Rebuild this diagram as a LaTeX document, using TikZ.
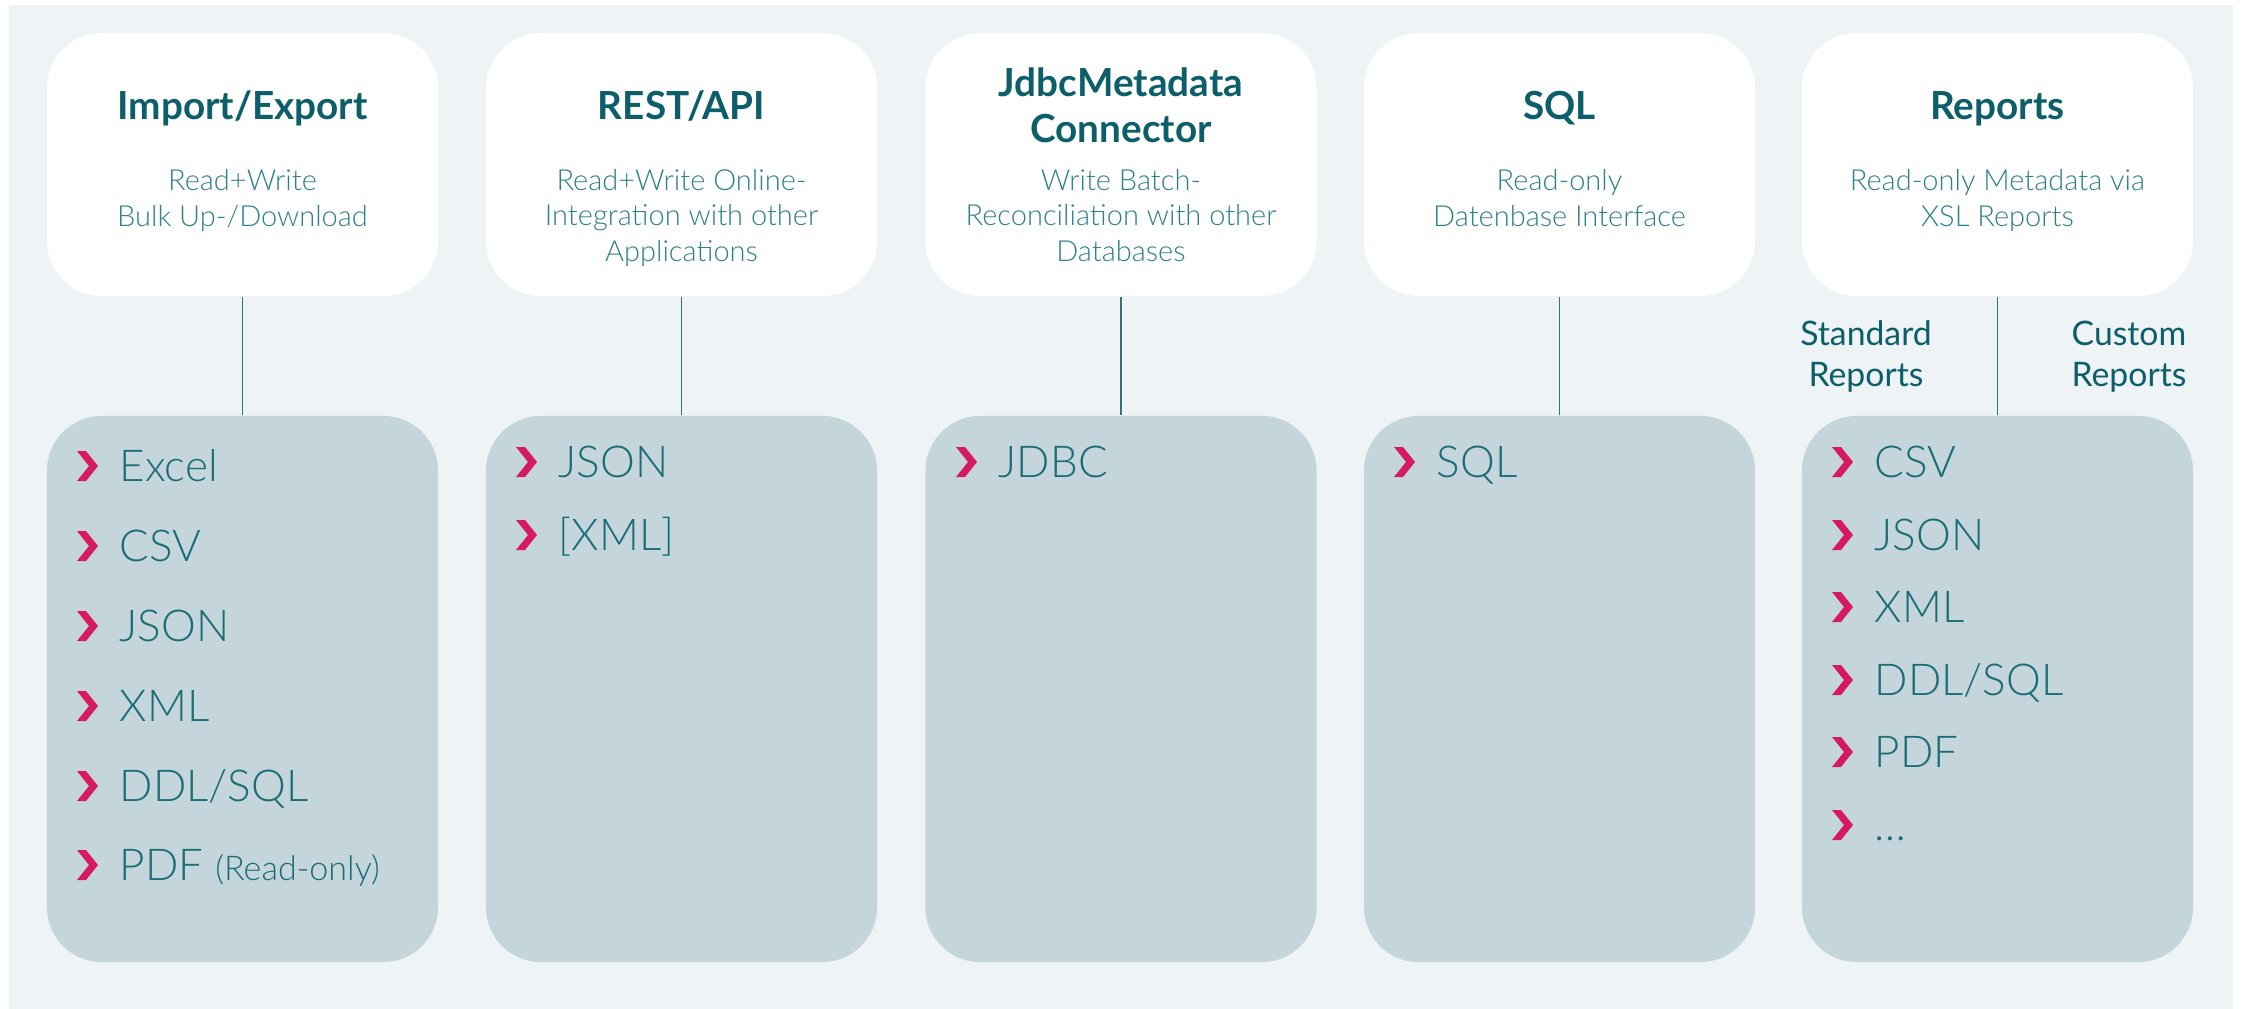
\documentclass[tikz,border=0pt]{standalone}
\usepackage{fontspec}
\setmainfont{Lato}
\newfontfamily\lightfont{Lato Light}
\definecolor{backdrop}{RGB}{238,243,246}
\definecolor{panel}{RGB}{197,213,220}
\definecolor{heading}{RGB}{12,94,106}
\definecolor{subline}{RGB}{46,128,138}
\definecolor{itemtext}{RGB}{26,108,118}
\definecolor{chevron}{RGB}{214,26,96}
\definecolor{wire}{RGB}{50,115,126}
\tikzstyle{channel}=[rectangle, rounded corners=0.55cm, fill=white, minimum width=3.91cm, minimum height=2.63cm]
\tikzstyle{formats}=[rectangle, rounded corners=0.55cm, fill=panel, minimum width=3.91cm, minimum height=5.46cm]
\tikzstyle{headline}=[font=\bfseries\fontsize{11}{12.8}\selectfont, text=heading, align=center, anchor=base, inner sep=0]
\tikzstyle{blurb}=[font=\lightfont\fontsize{8.25}{9.96}\selectfont, text=subline, align=center, anchor=base, inner sep=0]
\tikzstyle{entry}=[font=\lightfont\fontsize{12.5}{14}\selectfont, text=itemtext, anchor=base west, inner sep=0]
\tikzstyle{kind}=[font=\fontsize{9.6}{11.4}\selectfont, text=heading, align=center, anchor=base, inner sep=0]
\tikzstyle{link}=[draw=wire, line width=0.45pt]
\newcommand{\Chevron}[1]{\fill[chevron, shift={(#1.base west)}] (-42,-30) -- (-33,-30) -- (-21,-15) -- (-33,0) -- (-42,0) -- (-30,-15) -- cycle;}
\newcommand{\Small}{\fontsize{9.7}{11}\selectfont}

\begin{document}
\begin{tikzpicture}[x=0.01cm, y=-0.01cm]
  \useasboundingbox (0,0) rectangle (2244,1009);
  \fill[backdrop] (9,5) rectangle (2233,1009);

  %% Channels (multi-line texts sit on their last line)
  \draw (242.5,164.5) node[channel] (C1) {};
  \draw (681.5,164.5) node[channel] (C2) {};
  \draw (1121,164.5) node[channel] (C3) {};
  \draw (1559.5,164.5) node[channel] (C4) {};
  \draw (1997.5,164.5) node[channel] (C5) {};

  \draw (242.5,120) node[headline] (T1) {Import/Export};
  \draw (681.5,120) node[headline] (T2) {REST/API};
  \draw (1121,142) node[headline] (T3) {JdbcMetadata\\Connector};
  \draw (1559.5,120) node[headline] (T4) {SQL};
  \draw (1997.5,120) node[headline] (T5) {Reports};

  \draw (242.5,226) node[blurb] (B1) {Read+Write\\Bulk Up-/Download};
  \draw (681.5,261) node[blurb] (B2) {Read+Write Online-\\Integration with other\\Applications};
  \draw (1121,261) node[blurb] (B3) {Write Batch-\\Reconciliation with other\\Databases};
  \draw (1559.5,226) node[blurb] (B4) {Read-only\\Datenbase Interface};
  \draw (1997.5,226) node[blurb] (B5) {Read-only Metadata via\\XSL Reports};

  %% Format panels
  \draw (242.5,689) node[formats] (F1) {};
  \draw (681.5,689) node[formats] (F2) {};
  \draw (1121,689) node[formats] (F3) {};
  \draw (1559.5,689) node[formats] (F4) {};
  \draw (1997.5,689) node[formats] (F5) {};

  \draw[link] (C1) -- (F1);
  \draw[link] (C2) -- (F2);
  \draw[link] (C3) -- (F3);
  \draw[link] (C4) -- (F4);
  \draw[link] (C5) -- (F5);

  \draw (1866,386) node[kind] (K1) {Standard\\Reports};
  \draw (2129,386) node[kind] (K2) {Custom\\Reports};

  %% Import/Export formats
  \draw (119,481) node[entry] (I11) {Excel};
  \draw (119,561) node[entry] (I12) {CSV};
  \draw (119,641) node[entry] (I13) {JSON};
  \draw (119,721) node[entry] (I14) {XML};
  \draw (119,801) node[entry] (I15) {DDL/SQL};
  \draw (119,880) node[entry] (I16) {PDF {\Small(Read-only)}};

  %% REST/API formats
  \draw (558,477) node[entry] (I21) {JSON};
  \draw (558,550) node[entry] (I22) {[XML]};

  %% JDBC and SQL
  \draw (998,477) node[entry] (I31) {JDBC};
  \draw (1436,477) node[entry] (I41) {SQL};

  %% Reports formats
  \draw (1874,477) node[entry] (I51) {CSV};
  \draw (1874,550) node[entry] (I52) {JSON};
  \draw (1874,622) node[entry] (I53) {XML};
  \draw (1874,695) node[entry] (I54) {DDL/SQL};
  \draw (1874,767) node[entry] (I55) {PDF};
  \draw (1874,840) node[entry] (I56) {\dots};

  \Chevron{I11} \Chevron{I12} \Chevron{I13} \Chevron{I14} \Chevron{I15} \Chevron{I16}
  \Chevron{I21} \Chevron{I22}
  \Chevron{I31}
  \Chevron{I41}
  \Chevron{I51} \Chevron{I52} \Chevron{I53} \Chevron{I54} \Chevron{I55} \Chevron{I56}
\end{tikzpicture}
\end{document}
